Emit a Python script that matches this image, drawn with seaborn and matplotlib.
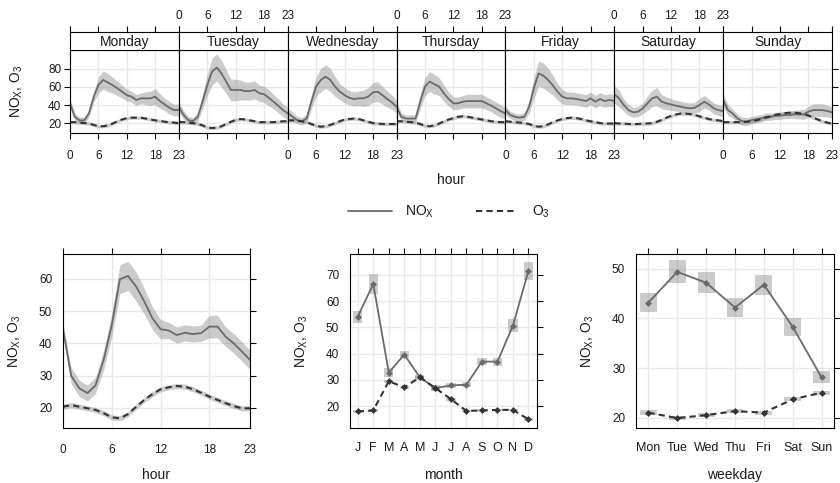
import numpy as np
import pandas as pd
import matplotlib
matplotlib.use("Agg")
import matplotlib.pyplot as plt
from matplotlib.lines import Line2D
import seaborn as sns

# ---------------- data ----------------
hours = list(range(24))
days = ["Monday", "Tuesday", "Wednesday", "Thursday", "Friday", "Saturday", "Sunday"]

# day x hour means (NOx)
nox_mon = [42, 27, 23, 23, 30.7, 49, 62, 67.8, 65, 62, 58.5, 54.8, 51, 49.3, 45.6, 47.4, 47.4, 47.4, 49.3, 44.4, 40.7, 37, 34.4, 34.4]
nox_tue = [38, 29, 23.3, 22.2, 27, 43.7, 62, 77, 81.5, 75, 66, 56.7, 56.7, 56.7, 55.5, 55.5, 56.7, 53, 52, 48, 43.7, 39.3, 34.4, 30.7]
nox_wed = [31, 27, 23.3, 22.2, 25, 43.7, 60.4, 67.8, 71.5, 67.8, 60.4, 54.8, 51, 48, 46.7, 47.4, 47.4, 49.3, 54, 54.8, 51, 46.7, 43, 38]
nox_thu = [38, 27, 25, 25, 25, 43.7, 60.4, 66, 63, 60.4, 53, 46.7, 41.9, 41.9, 43.7, 44.4, 44.4, 44.4, 44.4, 41.9, 39.3, 36.3, 33.3, 30.7]
nox_fri = [34.4, 29, 27, 26, 27, 38, 58.5, 75, 72.6, 67.8, 62, 54.8, 49.3, 47.4, 47.4, 46.7, 45.6, 44.4, 47.4, 43.7, 46.7, 44.4, 45.6, 44.4]
nox_sat = [52, 47.4, 40, 34.4, 31.9, 32.6, 36.3, 41.9, 47.4, 49.3, 43.7, 41.9, 40.7, 39.3, 38.1, 37, 36.3, 37, 40, 43.7, 40.7, 36.3, 34.4, 33.3]
nox_sun = [45.6, 34.4, 30.7, 25.2, 22.2, 21.5, 23.3, 24.4, 25.2, 27, 27, 28.1, 28.1, 28.9, 28.9, 29.6, 29.6, 29.6, 32.6, 34.4, 34.4, 34.4, 33.3, 31.9]

# day x hour 95% CI half widths (NOx)
nox_ci_mon = [5, 4, 3.5, 3.5, 4, 6, 9, 10, 10, 9, 8, 7, 6.5, 6, 6, 6, 7, 8, 9, 8, 7, 7, 6.5, 6.5]
nox_ci_tue = [6, 5, 4, 4, 5, 8, 12, 15, 15, 15, 13, 12, 12, 11, 10, 10, 10, 9, 9, 9, 8, 8, 7, 7]
nox_ci_wed = [6, 5, 4, 4, 5, 8, 11, 13, 13, 13, 11, 9, 8.5, 8, 8, 8, 9, 10, 11, 11, 10, 9, 8, 7]
nox_ci_thu = [6, 4, 4, 4, 4, 8, 10, 11, 11, 10, 9, 8, 7, 7, 7, 7.5, 7.5, 7.5, 7.5, 7, 7, 7, 7, 6]
nox_ci_fri = [5, 4, 4, 4, 4, 7, 11, 14, 14, 13, 11, 9, 8, 7, 7, 7, 7, 7, 7, 7, 7, 7, 7, 7]
nox_ci_sat = [10, 9, 7, 6, 5.5, 5.5, 6, 8, 9, 10, 8, 7, 6.5, 6, 6, 6, 6, 6, 7, 7, 6, 6, 6, 6]
nox_ci_sun = [8, 6, 5, 5, 4.5, 4.5, 4, 4, 4, 4, 4, 4, 4, 4, 4, 4.5, 5, 5.5, 6, 7, 7, 7, 6.5, 6]

# day x hour means (O3)
o3_mon = [21, 21, 20.5, 20, 19.5, 18, 16.5, 16.5, 17.5, 19.5, 22, 24, 25.5, 26, 26, 26, 25, 24, 23, 22.5, 21.5, 21, 20.5, 20]
o3_tue = [21, 21, 20.5, 20, 19, 17.5, 15, 14.5, 15, 16.5, 19, 21.5, 23.5, 24.5, 24, 23, 22, 21, 21, 21, 21, 21.5, 22, 22]
o3_wed = [23, 23, 22.5, 22, 21, 19, 17, 16, 16.5, 18, 20, 22, 24, 24.5, 25, 24.5, 23, 21.5, 20, 19.5, 19, 19, 19, 19]
o3_thu = [22, 22, 21.5, 21, 20.5, 19, 17, 16.5, 17.5, 19.5, 22, 24, 25.5, 27, 27.5, 27, 26, 25, 24, 23, 22, 21.5, 21, 21]
o3_fri = [22, 21.5, 21, 20.5, 20, 19, 17, 16, 16.5, 18.5, 21, 23, 24.5, 25.5, 26, 25.5, 24.5, 23, 22, 21, 20, 19.5, 19.5, 19.5]
o3_sat = [20, 19.5, 19.5, 19, 19, 19, 19.5, 19.5, 20, 21.5, 23.5, 26, 28, 29.5, 30.5, 30.5, 30, 29, 27.5, 26, 24.5, 23.5, 23, 22]
o3_sun = [21, 21, 21, 21, 21, 21.5, 22, 23, 24.5, 26, 27.5, 29, 30, 31, 31.5, 31.5, 31, 30, 28.5, 26, 24, 22, 20.5, 19.5]
o3_ci_dayhour = [1.8, 1.8, 1.8, 1.8, 1.8, 1.8, 1.8, 1.8, 1.8, 1.8, 1.8, 1.8, 1.8, 1.8, 1.8, 1.8, 1.8, 1.8, 1.8, 1.8, 1.8, 1.8, 1.8, 1.8]

# hour of day
nox_hour = [44.5, 30, 26.1, 24.6, 27, 34.9, 45.7, 59.9, 60.9, 57.6, 53, 47.8, 44.4, 44, 42.6, 43.3, 42.9, 43.2, 45.2, 45.2, 42.1, 40, 37.5, 34.9]
nox_hour_ci = [1.5, 2.5, 2.5, 2.5, 2.5, 3, 3.5, 4.5, 4.5, 4.5, 4, 3.5, 3, 2.5, 2.5, 2.5, 2.5, 2.5, 3.5, 3.5, 3, 3, 3, 3]
o3_hour = [20.4, 20.9, 20.4, 19.9, 19.4, 18.4, 17.1, 16.8, 18.1, 20.4, 22.5, 24.3, 25.8, 26.4, 26.8, 26.6, 25.8, 24.7, 23.5, 22.5, 21.5, 20.6, 19.9, 19.9]
o3_hour_ci = [0.8, 0.8, 0.8, 0.8, 0.8, 0.8, 0.8, 0.8, 0.8, 0.8, 0.8, 0.8, 0.8, 0.8, 0.8, 0.8, 0.8, 0.8, 0.8, 0.8, 0.8, 0.8, 0.8, 0.8]

# month
month_labels = ["J", "F", "M", "A", "M", "J", "J", "A", "S", "O", "N", "D"]
nox_month = [54.1, 66.6, 32.8, 39.7, 31, 26.9, 27.9, 28.2, 37, 37, 50.7, 71.6]
nox_month_ci = [2.3, 3.8, 1.8, 1.5, 1, 1, 0.8, 1, 1.3, 1.5, 2.5, 3.5]
o3_month = [18, 18.4, 29.5, 27.2, 31, 26.9, 22.7, 18.2, 18.4, 18.6, 18.6, 15]
o3_month_ci = [0.5, 0.5, 0.6, 0.6, 0.6, 0.6, 0.6, 0.5, 0.5, 0.5, 0.5, 0.5]

# weekday
wday_labels = ["Mon", "Tue", "Wed", "Thu", "Fri", "Sat", "Sun"]
nox_wday = [43.2, 49.4, 47.2, 42.2, 46.8, 38.3, 28.1]
nox_wday_ci = [1.85, 2.35, 2.1, 1.85, 2.0, 1.8, 1.2]
o3_wday = [21, 19.9, 20.5, 21.3, 21, 23.7, 25]
o3_wday_ci = [0.45, 0.35, 0.35, 0.45, 0.4, 0.45, 0.45]

nox_days = [nox_mon, nox_tue, nox_wed, nox_thu, nox_fri, nox_sat, nox_sun]
nox_ci_days = [nox_ci_mon, nox_ci_tue, nox_ci_wed, nox_ci_thu, nox_ci_fri, nox_ci_sat, nox_ci_sun]
o3_days = [o3_mon, o3_tue, o3_wed, o3_thu, o3_fri, o3_sat, o3_sun]

top_df = pd.concat([
    pd.DataFrame({"day": d, "hour": hours, "NOx": n, "NOx_ci": c, "O3": o, "O3_ci": o3_ci_dayhour})
    for d, n, c, o in zip(days, nox_days, nox_ci_days, o3_days)
])
hour_df = pd.DataFrame({"hour": hours, "NOx": nox_hour, "NOx_ci": nox_hour_ci, "O3": o3_hour, "O3_ci": o3_hour_ci})
month_df = pd.DataFrame({"pos": range(1, 13), "NOx": nox_month, "NOx_ci": nox_month_ci, "O3": o3_month, "O3_ci": o3_month_ci})
wday_df = pd.DataFrame({"pos": range(1, 8), "NOx": nox_wday, "NOx_ci": nox_wday_ci, "O3": o3_wday, "O3_ci": o3_wday_ci})

# ---------------- style ----------------
sns.set_theme(style="white")
plt.rcParams["font.family"] = ["Liberation Sans", "DejaVu Sans"]
plt.rcParams["mathtext.default"] = "regular"

W, H = 840, 483
NOX_COL = "#6a6a6a"
O3_COL = "#333333"
BAND = "#8c8c8c"
GRID = "#e8e8e8"
TXT = "#1a1a1a"
DASH = (0, (3, 2))
YLAB = "NO$_X$, O$_3$"

fig = plt.figure(figsize=(8.4, 4.83), dpi=100)


def box(x0, y0, x1, y1):
    return [x0 / W, 1 - y1 / H, (x1 - x0) / W, (y1 - y0) / H]


def style_ax(ax):
    for s in ax.spines.values():
        s.set_visible(True)
        s.set_color("black")
        s.set_linewidth(0.8)
    ax.tick_params(direction="out", length=4.3, width=0.8, color="black",
                   labelsize=8.5, labelcolor=TXT)
    ax.grid(True, color=GRID, lw=1)
    ax.set_axisbelow(True)


def draw_lines(ax, df, x):
    ax.fill_between(df[x], df.NOx - df.NOx_ci, df.NOx + df.NOx_ci, color=BAND, alpha=0.45, lw=0)
    ax.fill_between(df[x], df.O3 - df.O3_ci, df.O3 + df.O3_ci, color=BAND, alpha=0.45, lw=0)
    sns.lineplot(data=df, x=x, y="NOx", ax=ax, color=NOX_COL, lw=1.3)
    sns.lineplot(data=df, x=x, y="O3", ax=ax, color=O3_COL, lw=1.5, linestyle=DASH)
    ax.set_xlabel("")
    ax.set_ylabel("")


# ---------------- top: day x hour ----------------
pw = (832 - 70) / 7
for i, day in enumerate(days):
    x0 = 70 + i * pw
    ax = fig.add_axes(box(x0, 50, x0 + pw, 133))
    draw_lines(ax, top_df[top_df.day == day], "hour")
    style_ax(ax)
    ax.set_xlim(0, 23)
    ax.set_ylim(9, 101)
    ax.set_xticks([0, 6, 12, 18, 23])
    ax.set_yticks([20, 40, 60, 80])
    ax.tick_params(bottom=True, labelbottom=(i % 2 == 0), top=False, labeltop=False,
                   left=(i == 0), labelleft=(i == 0), right=(i == 6), labelright=False,
                   pad=8)
    ax.tick_params(axis="y", pad=2)

    sa = fig.add_axes(box(x0, 32, x0 + pw, 50))
    sa.set_facecolor("white")
    for s in sa.spines.values():
        s.set_visible(True)
        s.set_color("black")
        s.set_linewidth(0.8)
    sa.set_xlim(0, 23)
    sa.set_xticks([0, 6, 12, 18, 23])
    sa.set_yticks([])
    sa.tick_params(direction="out", length=4.3, width=0.8, color="black", labelsize=8.5,
                   labelcolor=TXT, bottom=False, labelbottom=False, top=True,
                   labeltop=(i % 2 == 1), pad=3)
    sa.text(0.5, 0.45, day, transform=sa.transAxes, ha="center", va="center",
            fontsize=10, color=TXT)

fig.text(17 / W, 1 - 91 / H, YLAB, rotation=90, ha="center", va="center", fontsize=10, color=TXT)
fig.text(451 / W, 1 - 180 / H, "hour", ha="center", va="center", fontsize=10, color=TXT)

# legend
fig.add_artist(Line2D([348 / W, 392 / W], [1 - 211 / H] * 2, color=NOX_COL, lw=1.3))
fig.text(405 / W, 1 - 212 / H, "NO$_X$", ha="left", va="center", fontsize=10, color=TXT)
fig.add_artist(Line2D([476 / W, 516 / W], [1 - 211 / H] * 2, color=O3_COL, lw=1.5, linestyle=DASH))
fig.text(532 / W, 1 - 212 / H, "O$_3$", ha="left", va="center", fontsize=10, color=TXT)

# ---------------- bottom-left: hour ----------------
ax1 = fig.add_axes(box(63, 254, 250, 428))
draw_lines(ax1, hour_df, "hour")
style_ax(ax1)
ax1.set_xlim(0, 23)
ax1.set_ylim(13.8, 67.7)
ax1.set_xticks([0, 6, 12, 18, 23])
ax1.set_yticks([20, 30, 40, 50, 60])
ax1.tick_params(top=True, right=True, labeltop=False, labelright=False)
ax1.tick_params(axis="x", pad=7)
fig.text(15 / W, 1 - 341 / H, YLAB, rotation=90, ha="center", va="center", fontsize=10, color=TXT)
fig.text(156 / W, 1 - 475 / H, "hour", ha="center", va="center", fontsize=10, color=TXT)


# ---------------- month / weekday ----------------
def draw_points(ax, df, width):
    ax.bar(df.pos, 2 * df.NOx_ci, bottom=df.NOx - df.NOx_ci, width=width,
           color=BAND, alpha=0.45, lw=0)
    ax.bar(df.pos, 2 * df.O3_ci, bottom=df.O3 - df.O3_ci, width=width,
           color=BAND, alpha=0.45, lw=0)
    sns.lineplot(data=df, x="pos", y="NOx", ax=ax, color=NOX_COL, lw=1.3,
                 marker="D", markersize=3.5, markeredgewidth=0)
    sns.lineplot(data=df, x="pos", y="O3", ax=ax, color=O3_COL, lw=1.5, linestyle=DASH,
                 marker="D", markersize=3.5, markeredgewidth=0)
    ax.set_xlabel("")
    ax.set_ylabel("")


ax2 = fig.add_axes(box(350, 254, 537, 428))
draw_points(ax2, month_df, 0.6)
style_ax(ax2)
ax2.set_xlim(0.5, 12.55)
ax2.set_ylim(11.7, 78)
ax2.set_xticks(range(1, 13))
ax2.set_xticklabels(month_labels, fontsize=9)
ax2.set_yticks([20, 30, 40, 50, 60, 70])
ax2.tick_params(top=True, right=True, labeltop=False, labelright=False)
ax2.tick_params(axis="x", pad=6)
fig.text(302 / W, 1 - 341 / H, YLAB, rotation=90, ha="center", va="center", fontsize=10, color=TXT)
fig.text(443 / W, 1 - 475 / H, "month", ha="center", va="center", fontsize=10, color=TXT)

ax3 = fig.add_axes(box(636, 254, 834, 428))
draw_points(ax3, wday_df, 0.58)
style_ax(ax3)
ax3.set_xlim(0.57, 7.43)
ax3.set_ylim(17.9, 53)
ax3.set_xticks(range(1, 8))
ax3.set_xticklabels(wday_labels, fontsize=9)
ax3.set_yticks([20, 30, 40, 50])
ax3.tick_params(top=True, right=True, labeltop=False, labelright=False)
ax3.tick_params(axis="x", pad=6)
fig.text(588 / W, 1 - 341 / H, YLAB, rotation=90, ha="center", va="center", fontsize=10, color=TXT)
fig.text(735 / W, 1 - 475 / H, "weekday", ha="center", va="center", fontsize=10, color=TXT)

fig.savefig("out.png", dpi=100)
